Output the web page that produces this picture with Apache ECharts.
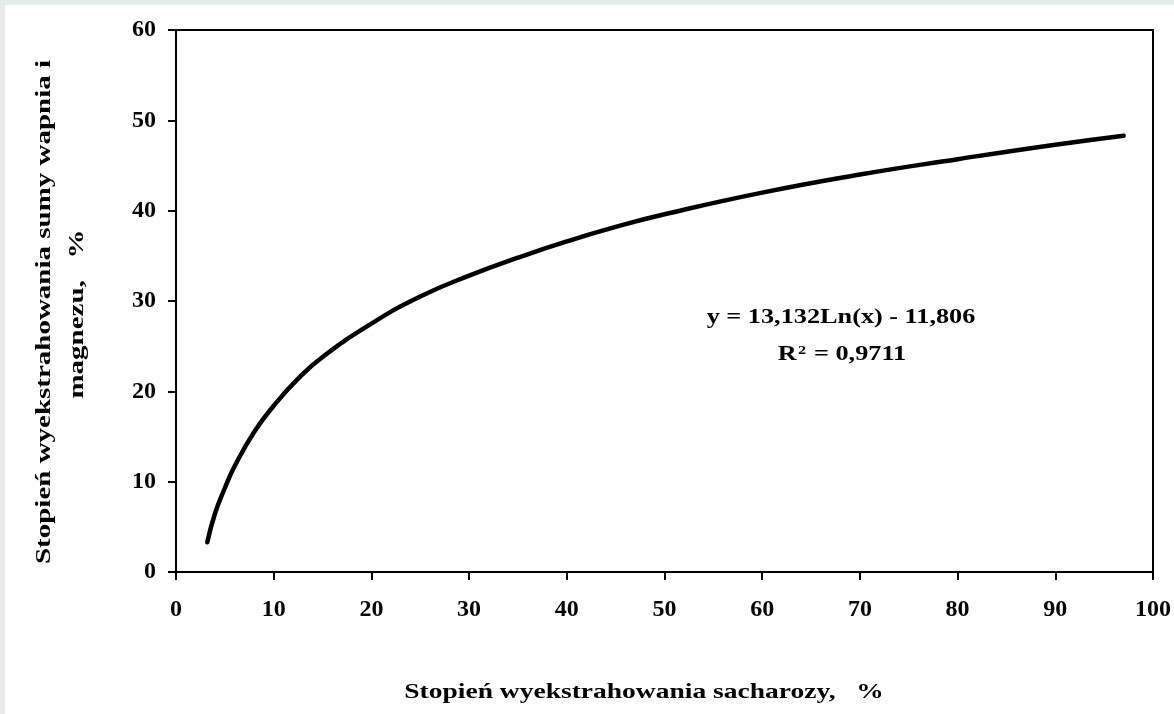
<!DOCTYPE html>
<html><head><meta charset="utf-8">
<script src="https://cdn.jsdelivr.net/npm/echarts@6/dist/echarts.min.js"></script>
<style>html,body{margin:0;padding:0;background:#fff}#c{width:1174px;height:714px}</style>
</head><body><div id="c"></div>
<script>
// Values (x = % sacharozy, y = % Ca+Mg)
const xValues = [3.2, 4, 5, 6, 8, 10, 12.5, 15, 20, 25, 30, 35, 40, 45, 50, 60, 70, 80, 90, 97];
const yValues = [3.3, 6.5, 9.3, 11.7, 15.5, 18.4, 21.4, 23.8, 27.5, 30.5, 32.8, 34.8, 36.6, 38.2, 39.6, 42.0, 44.0, 45.7, 47.3, 48.3];
const xTitle = 'Stopień wyekstrahowania sacharozy,   %';
const yTitleLines = ['Stopień wyekstrahowania sumy wapnia i', 'magnezu,   %'];
const eqLine1 = 'y = 13,132Ln(x) - 11,806';

const FONT = '"Liberation Serif", "Times New Roman", serif';
const chart = echarts.init(document.getElementById('c'), null, {renderer: 'canvas'});
const lbl = {color: '#000', fontFamily: FONT, fontWeight: 'bold', fontSize: 24};
const tfont = 'bold 21px ' + FONT;
chart.setOption({
  animation: false,
  backgroundColor: '#fff',
  grid: {left: 176, right: 21, top: 30, bottom: 142, show: true, borderColor: '#000', borderWidth: 2},
  xAxis: {
    type: 'value', min: 0, max: 100, interval: 10,
    axisLine: {onZero: false, lineStyle: {color: '#000', width: 2}},
    axisTick: {show: true, length: 8, lineStyle: {color: '#000', width: 2}},
    axisLabel: Object.assign({margin: 26}, lbl),
    splitLine: {show: false}
  },
  yAxis: {
    type: 'value', min: 0, max: 60, interval: 10,
    axisLine: {show: true, onZero: false, lineStyle: {color: '#000', width: 2}},
    axisTick: {show: true, length: 8, lineStyle: {color: '#000', width: 2}},
    axisLabel: Object.assign({margin: 20}, lbl),
    splitLine: {show: false}
  },
  series: [{
    type: 'line', smooth: true, symbol: 'none',
    lineStyle: {color: '#000', width: 4.5, cap: 'round'},
    data: xValues.map((x, i) => [x, yValues[i]])
  }],
  graphic: [
    {type: 'rect', shape: {x: 0, y: 0, width: 1174, height: 5}, style: {fill: '#e9ebeb'}, silent: true},
    {type: 'rect', shape: {x: 0, y: 0, width: 5, height: 714}, style: {fill: '#e9ebeb'}, silent: true},
    {type: 'text', x: 644, y: 693, scaleX: 1.31, style: {text: xTitle, align: 'center', verticalAlign: 'middle', font: tfont, fill: '#000'}},
    {type: 'text', rotation: Math.PI / 2, x: 45, y: 312, scaleX: 1.38, style: {text: yTitleLines[0], align: 'center', verticalAlign: 'middle', font: tfont, fill: '#000'}},
    {type: 'text', rotation: Math.PI / 2, x: 78, y: 314, scaleX: 1.38, style: {text: yTitleLines[1], align: 'center', verticalAlign: 'middle', font: tfont, fill: '#000'}},
    {type: 'text', x: 841, y: 318, scaleX: 1.25, style: {text: eqLine1, align: 'center', verticalAlign: 'middle', font: tfont, fill: '#000'}},
    {type: 'text', x: 842, y: 355, scaleX: 1.25, style: {
      text: '{a|R}{s|2}{a| = 0,9711}', align: 'center', verticalAlign: 'middle',
      rich: {a: {font: tfont, color: '#000'}, s: {font: 'bold 13px ' + FONT, color: '#000', verticalAlign: 'top', padding: [0, 1, 8, 1]}}
    }}
  ]
});
</script></body></html>
